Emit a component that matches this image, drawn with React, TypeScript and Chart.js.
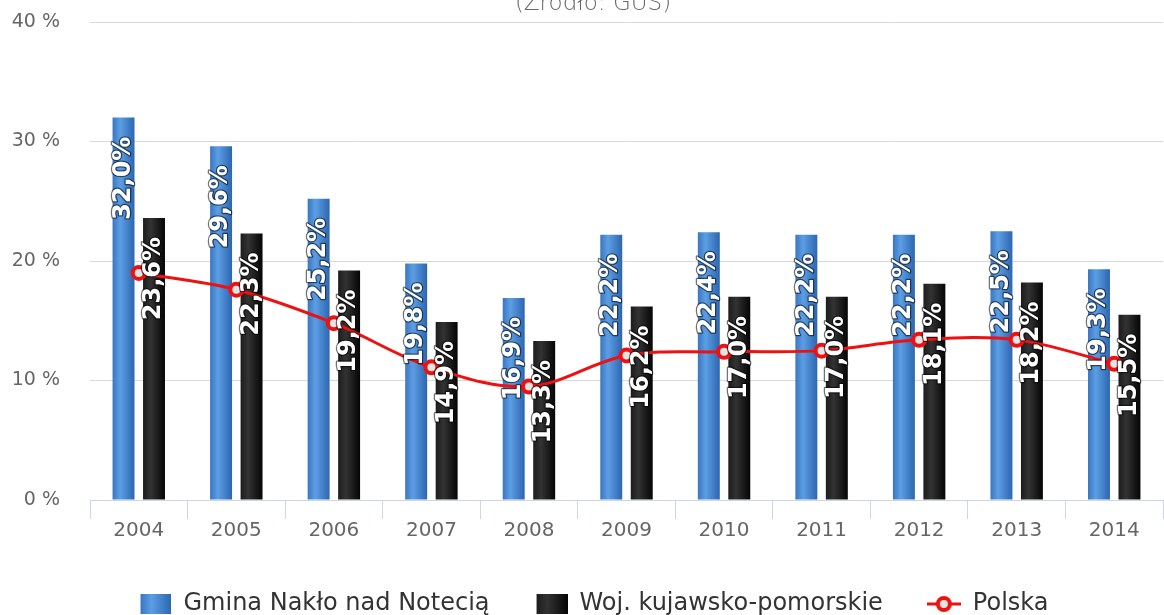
import React, { useEffect, useRef } from 'react';
import { Chart, registerables } from 'chart.js';

Chart.register(...registerables);

const categories = ['2004', '2005', '2006', '2007', '2008', '2009', '2010', '2011', '2012', '2013', '2014'];
const gminaValues = [32.0, 29.6, 25.2, 19.8, 16.9, 22.2, 22.4, 22.2, 22.2, 22.5, 19.3];
const wojValues = [23.6, 22.3, 19.2, 14.9, 13.3, 16.2, 17.0, 17.0, 18.1, 18.2, 15.5];
const polskaValues = [19.0, 17.6, 14.8, 11.1, 9.5, 12.1, 12.4, 12.5, 13.4, 13.4, 11.4];
const yMin = 0;
const yMax = 40;
const yStep = 10;
const seriesNames = ['Gmina Nakło nad Notecią', 'Woj. kujawsko-pomorskie', 'Polska'];
const titleText = '(Źródło: GUS)';

const BLUE_STOPS: [number, string][] = [[0, '#3a76c0'], [0.35, '#5c9ee4'], [1, '#2c66b0']];
const BLACK_STOPS: [number, string][] = [[0, '#1c1c1c'], [0.35, '#333333'], [1, '#050505']];
const RED = '#ee1111';
const FONT = '"DejaVu Sans", Verdana, sans-serif';

function hGradient(ctx: CanvasRenderingContext2D, left: number, width: number, stops: [number, string][]) {
  const g = ctx.createLinearGradient(left, 0, left + width, 0);
  stops.forEach(([o, c]) => g.addColorStop(o, c));
  return g;
}

function makeSquareIcon(stops: [number, string][]) {
  const c = document.createElement('canvas');
  c.width = 34;
  c.height = 20;
  const ctx = c.getContext('2d')!;
  ctx.fillStyle = hGradient(ctx, 3, 31, stops);
  ctx.fillRect(3, 0, 31, 20);
  return c;
}

function makeLineIcon() {
  const c = document.createElement('canvas');
  c.width = 34;
  c.height = 20;
  const ctx = c.getContext('2d')!;
  ctx.strokeStyle = RED;
  ctx.lineWidth = 3;
  ctx.beginPath();
  ctx.moveTo(0, 10);
  ctx.lineTo(34, 10);
  ctx.stroke();
  ctx.beginPath();
  ctx.arc(17, 10, 6, 0, Math.PI * 2);
  ctx.fillStyle = '#e4e4e4';
  ctx.fill();
  ctx.lineWidth = 4;
  ctx.stroke();
  return c;
}

const barGradientPlugin = {
  id: 'barGradient',
  beforeDatasetsDraw(chart: any) {
    const ctx = chart.ctx;
    [0, 1].forEach((di) => {
      const stops = di === 0 ? BLUE_STOPS : BLACK_STOPS;
      chart.getDatasetMeta(di).data.forEach((el: any) => {
        const left = el.x - el.width / 2;
        el.options = { ...el.options, backgroundColor: hGradient(ctx, left, el.width, stops) };
      });
    });
  },
};

const dataLabelPlugin = {
  id: 'barLabels',
  afterDatasetsDraw(chart: any) {
    const ctx = chart.ctx;
    [0, 1].forEach((di) => {
      const values = chart.data.datasets[di].data as number[];
      chart.getDatasetMeta(di).data.forEach((el: any, i: number) => {
        const txt = values[i].toFixed(1).replace('.', ',') + '%';
        ctx.save();
        ctx.translate(el.x, el.y + 19);
        ctx.rotate(-Math.PI / 2);
        ctx.font = 'bold 24px ' + FONT;
        ctx.textAlign = 'right';
        ctx.textBaseline = 'middle';
        ctx.lineJoin = 'round';
        ctx.strokeStyle = 'rgba(0,0,0,0.55)';
        ctx.lineWidth = 2.5;
        ctx.strokeText(txt, 0, 0);
        ctx.fillStyle = '#ffffff';
        ctx.fillText(txt, 0, 0);
        ctx.restore();
      });
    });
  },
};

const titlePlugin = {
  id: 'cutTitle',
  afterDraw(chart: any) {
    const ctx = chart.ctx;
    ctx.save();
    ctx.font = '200 23px ' + FONT;
    ctx.fillStyle = '#666666';
    ctx.textAlign = 'center';
    ctx.textBaseline = 'alphabetic';
    ctx.fillText(titleText, 593, 10);
    ctx.restore();
  },
};

const legendShiftPlugin = {
  id: 'legendShift',
  afterLayout(chart: any) {
    if (chart.legend) {
      chart.legend.left = 23;
    }
  },
};

export default function App() {
  const canvasRef = useRef<HTMLCanvasElement | null>(null);

  useEffect(() => {
    const canvas = canvasRef.current;
    if (!canvas) return;
    const icons = [makeSquareIcon(BLUE_STOPS), makeSquareIcon(BLACK_STOPS), makeLineIcon()];

    const chart = new Chart(canvas, {
      type: 'bar',
      data: {
        labels: categories,
        datasets: [
          {
            type: 'bar',
            label: seriesNames[0],
            data: gminaValues,
            backgroundColor: '#3a76c0',
            borderWidth: 0,
            categoryPercentage: 0.625,
            barPercentage: 0.72,
          },
          {
            type: 'bar',
            label: seriesNames[1],
            data: wojValues,
            backgroundColor: '#111111',
            borderWidth: 0,
            categoryPercentage: 0.625,
            barPercentage: 0.72,
          },
          {
            type: 'line',
            label: seriesNames[2],
            data: polskaValues,
            order: -1,
            borderColor: RED,
            borderWidth: 3,
            tension: 0.35,
            fill: false,
            pointRadius: 6,
            pointBorderWidth: 4,
            pointBorderColor: RED,
            pointBackgroundColor: '#e4e4e4',
          } as any,
        ],
      },
      options: {
        responsive: false,
        animation: false,
        events: [],
        layout: { autoPadding: false, padding: { top: 22, left: 0, right: 1, bottom: 0 } },
        scales: {
          x: {
            offset: true,
            afterFit: (scale: any) => {
              scale.height = 48;
              scale.paddingLeft = 0;
              scale.paddingRight = 0;
            },
            grid: { offset: true, drawOnChartArea: false, tickLength: 19, color: '#ccd6eb', lineWidth: 1 },
            border: { color: '#ccd6eb', width: 1 },
            ticks: { color: '#666666', font: { family: FONT, size: 20 }, padding: 0, maxRotation: 0, autoSkip: false },
          },
          y: {
            min: yMin,
            max: yMax,
            afterFit: (scale: any) => {
              scale.width = 90;
              scale.paddingTop = 0;
              scale.paddingBottom = 0;
            },
            grid: { drawTicks: true, tickLength: 30, tickColor: 'rgba(0,0,0,0)', color: '#d9d9d9', lineWidth: 1 },
            border: { display: false },
            ticks: {
              stepSize: yStep,
              color: '#666666',
              font: { family: FONT, size: 19 },
              padding: 0,
              callback: (v: any) => v + ' %',
            },
          },
        },
        plugins: {
          tooltip: { enabled: false },
          title: { display: false },
          legend: {
            display: true,
            position: 'bottom',
            align: 'center',
            labels: {
              usePointStyle: true,
              pointStyleWidth: 34,
              padding: 44,
              color: '#333333',
              font: { family: FONT, size: 24 },
              generateLabels: () =>
                seriesNames.map((name, i) => ({
                  text: name,
                  pointStyle: icons[i],
                  datasetIndex: i,
                  hidden: false,
                  fontColor: '#333333',
                  lineWidth: 0,
                  strokeStyle: 'rgba(0,0,0,0)',
                  fillStyle: 'rgba(0,0,0,0)',
                })) as any,
            },
          },
        },
      },
      plugins: [barGradientPlugin, dataLabelPlugin, titlePlugin, legendShiftPlugin],
    });

    return () => chart.destroy();
  }, []);

  return (
    <div
      style={{
        position: 'absolute',
        left: 0,
        top: 0,
        width: 1164,
        height: 615,
        overflow: 'hidden',
        background: '#ffffff',
      }}
    >
      <canvas ref={canvasRef} width={1164} height={626} style={{ display: 'block' }} />
    </div>
  );
}
